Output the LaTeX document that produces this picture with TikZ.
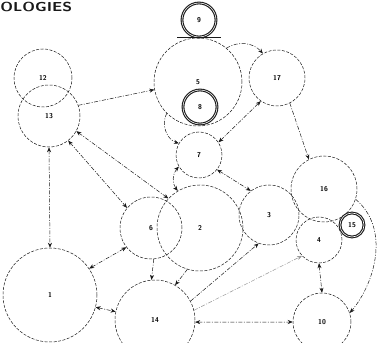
\documentclass[tikz,border=0pt]{standalone}
\usepackage{tikz}
\usetikzlibrary{arrows.meta}

\begin{document}
\begin{tikzpicture}[x=1pt,y=1pt,
  ring/.style={draw=drawColor,circle,inner sep=0pt,line width=0.5pt,dash pattern=on 3pt off 1.5pt,
    font=\sffamily\bfseries\scriptsize},
  solidring/.style={draw=drawColor,circle,inner sep=0pt,line width=1.1pt,double=white,double distance=0.6pt,
    font=\sffamily\bfseries\scriptsize},
  link/.style={draw=drawColor,line width=0.5pt,dash pattern=on 4pt off 1.5pt on 1pt off 1.5pt,
    line join=round,-{Stealth[length=5pt,width=4pt]}},
  blink/.style={link,{Stealth[length=5pt,width=4pt]}-{Stealth[length=5pt,width=4pt]}},
  faint/.style={link,draw=drawColor!45}]
\definecolor{fillColor}{RGB}{255,255,255}
\definecolor{drawColor}{RGB}{25,25,25}
\path[use as bounding box,fill=fillColor] (0,0) rectangle (378,343);

% title
\node[text=drawColor,anchor=west,inner sep=0pt,font=\sffamily\bfseries,xscale=1.6,yscale=1.3] (title) at (0,336) {OLOGIES};

% circles
\node[solidring,minimum size=34pt] (c9) at (199,323) {9};
\node[ring,minimum size=88pt] (c5) at (198,261) {5};
\node[solidring,minimum size=34pt] (c8) at (200,236) {8};
\node[ring,minimum size=56pt] (c17) at (277,265) {17};
\node[ring,minimum size=58pt] (c12) at (43,265) {12};
\node[ring,minimum size=62pt] (c13) at (49,227) {13};
\node[ring,minimum size=46pt] (c7) at (199,188) {7};
\node[ring,minimum size=62pt] (c6) at (151,115) {6};
\node[ring,minimum size=86pt] (c2) at (200,115) {2};
\node[ring,minimum size=60pt] (c3) at (269,128) {3};
\node[ring,minimum size=66pt] (c16) at (324,154) {16};
\node[ring,minimum size=46pt] (c4) at (319,103) {4};
\node[solidring,minimum size=24pt] (c15) at (352,118) {15};
\node[ring,minimum size=94pt] (c1) at (50,48) {1};
\node[ring,minimum size=80pt] (c14) at (155,23) {14};
\node[ring,minimum size=58pt] (c10) at (322,21) {10};

\draw[drawColor,line width=0.9pt] (c9.south) ++(-22,0) -- ++(44,0);

% links
\draw[link] (c13.20) -- (c5.190);
\draw[link] (c5.50) to[bend left=40] (c17.120);
\draw[blink] (c7.33) -- (c17.235);
\draw[link] (c17.297) -- (c16.117);
\draw[link] (c5.225) to[bend right=50] (c7.150);
\draw[blink] (c7.210) to[bend right=40] (c2.121);
\draw[blink] (c7.321) -- (c3.127);
\draw[blink] (c13.308) -- (c6.140);
\draw[blink] (c13.331) -- (c2.137);
\draw[blink] (c13.south) -- (c1.north);
\draw[blink] (c1.34) -- (c6.218);
\draw[blink] (c1.345) -- (c14.168);
\draw[link] (c6.275) -- (c14.95);
\draw[link] (c2.253) -- (c14.60);
\draw[link] (c14.28) -- (c3.250);
\draw[faint] (c14.14) -- (c4.223);
\draw[blink] (c14.357) -- (c10.180);
\draw[blink] (c4.south) -- (c10.north);
\draw[link] (c16.342) .. controls +(-40:45) and +(50:40) .. (c10.18);
\end{tikzpicture}
\end{document}
